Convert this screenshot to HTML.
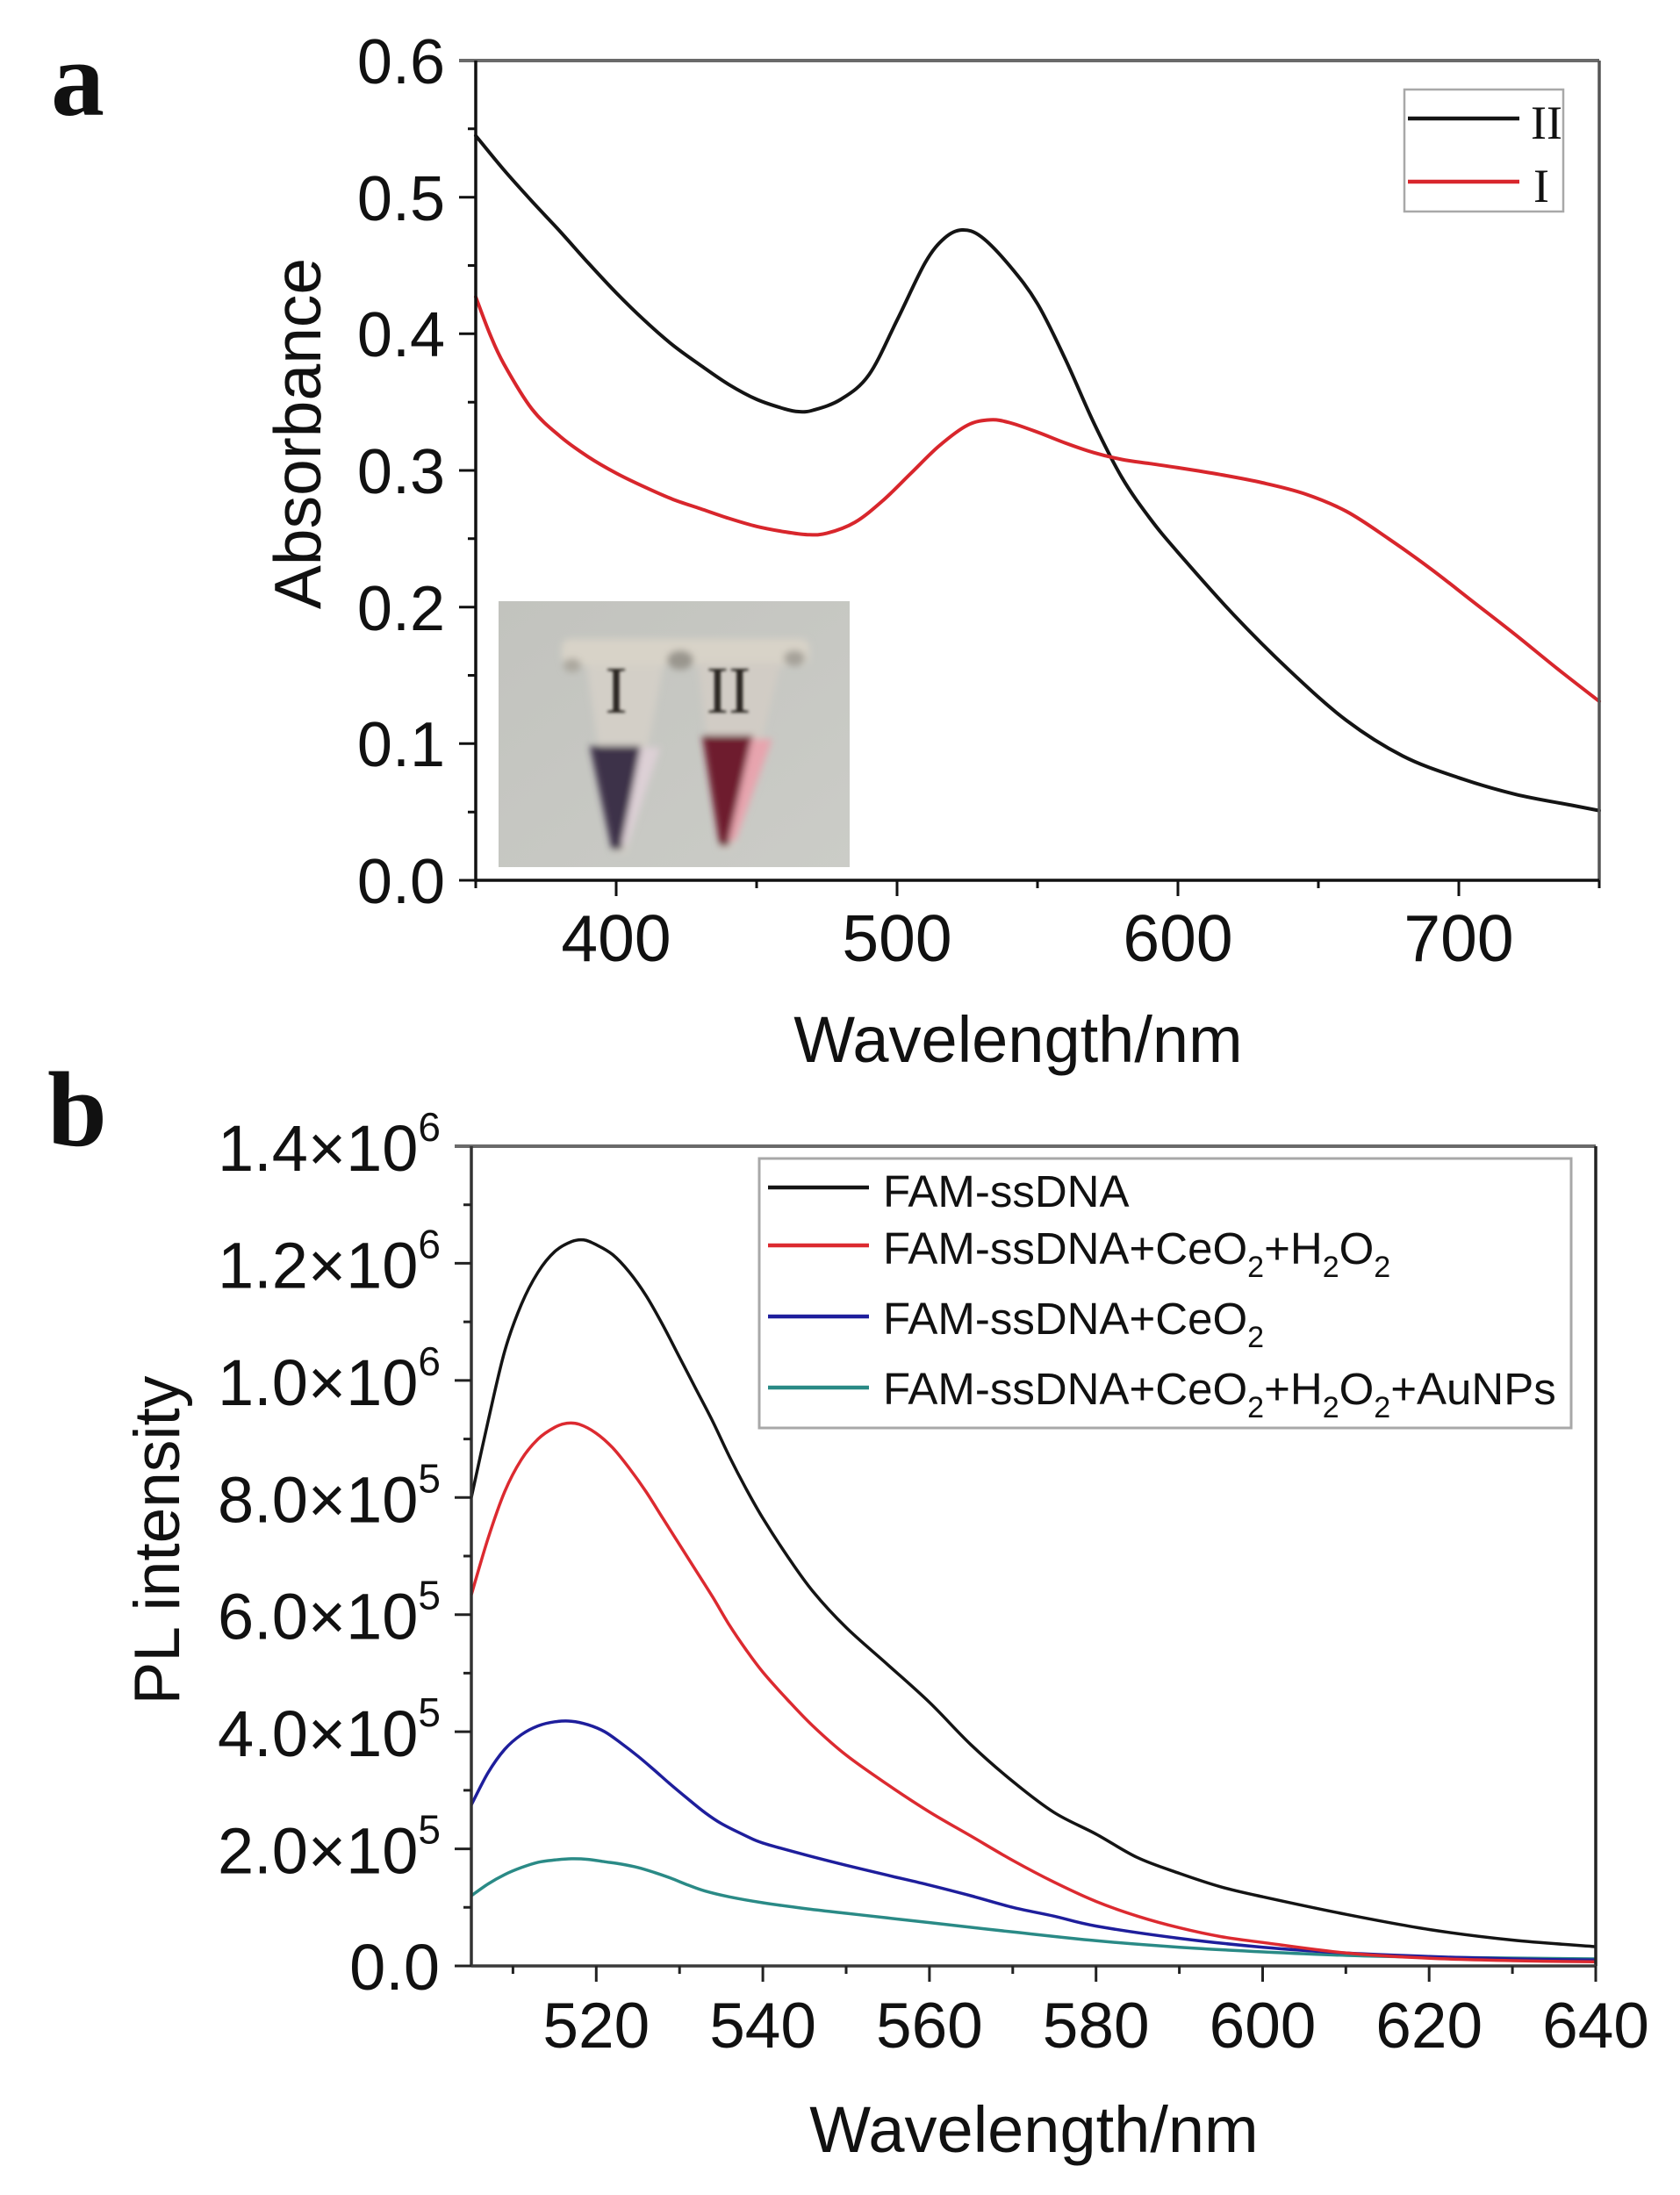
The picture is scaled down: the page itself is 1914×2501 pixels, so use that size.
<!DOCTYPE html>
<html><head><meta charset="utf-8"><style>
html,body{margin:0;padding:0;background:#fff;}
svg{display:block;}
text{font-family:"Liberation Sans",Arial,sans-serif;fill:#111;}
.serif{font-family:"Liberation Serif","Times New Roman",serif;}
</style></head><body>
<svg width="1914" height="2501" viewBox="0 0 1914 2501" xmlns="http://www.w3.org/2000/svg">
<defs>
<filter id="bl" x="-20%" y="-20%" width="140%" height="140%"><feGaussianBlur stdDeviation="4"/></filter>
<filter id="bl2"><feGaussianBlur stdDeviation="1.5"/></filter>
<linearGradient id="pg" x1="0" y1="0" x2="1" y2="1"><stop offset="0" stop-color="#c2c3be"/><stop offset="1" stop-color="#cbccc7"/></linearGradient>
</defs>
<rect width="1914" height="2501" fill="#fff"/>

<!-- ================= PANEL A ================= -->
<text class="serif" x="58" y="131" font-size="122" font-weight="bold">a</text>

<!-- inset photo -->
<g>
<rect x="568" y="685" width="400" height="303" fill="url(#pg)"/>
<g filter="url(#bl)">
<rect x="640" y="728" width="282" height="30" rx="10" fill="#d8d3c8"/>
<ellipse cx="775" cy="752" rx="15" ry="11" fill="#9a968e"/>
<ellipse cx="905" cy="750" rx="12" ry="9" fill="#a6a29a"/>
<ellipse cx="652" cy="758" rx="10" ry="8" fill="#aca89f"/>
<path d="M668 758 L756 758 L714 972 L700 972 Z" fill="#d3cfc7"/>
<path d="M795 755 L890 755 L835 968 L820 968 Z" fill="#d1ccc5"/>
<path d="M672 850 L730 850 L708 968 L697 968 Z" fill="#3e3149"/>
<path d="M730 852 L752 852 L715 962 L708 962 Z" fill="#ddd0d6"/>
<path d="M800 838 L858 838 L830 964 L820 964 Z" fill="#6e1a2d"/>
<path d="M856 842 L880 842 L838 958 L830 958 Z" fill="#e7a4ae"/>
</g>
<text class="serif" x="702" y="812" font-size="76" text-anchor="middle" style="fill:#2b2520" filter="url(#bl2)">I</text>
<text class="serif" x="830" y="812" font-size="76" text-anchor="middle" style="fill:#2b2520" filter="url(#bl2)">II</text>
</g>

<!-- curves a -->
<polyline class="s" fill="none" stroke="#141414" stroke-width="4" stroke-linejoin="round" stroke-linecap="round" points="542,154.6 574,193.5 606,229.3 638,263.6 670,299.4 702,333.6 734,364.8 766,392.8 798,416.1 830,437.9 862,455 894,465.9 910,469 926,467.5 958,455 990,427 1022,364.8 1054,299.4 1076,271.4 1096,262 1118,269.8 1150,302.5 1182,346.1 1214,409.9 1246,481.5 1278,543.8 1310,590.5 1342,629.4 1406,701 1470,764.8 1534,820.9 1598,861.3 1662,886.2 1726,904.9 1790,917.4 1822,923.6"/>
<polyline class="s" fill="none" stroke="#d8262c" stroke-width="4" stroke-linejoin="round" stroke-linecap="round" points="542,338.3 558,380.3 574,414.6 606,466 638,497.1 670,520.4 702,539.1 734,554.7 766,568.7 798,579.6 830,590.5 862,599.8 894,606 920,609.2 942,607.6 974,595.1 1006,570.2 1038,539.1 1070,508 1102,484.6 1128,478.4 1150,481.5 1182,492.4 1214,504.9 1246,515.7 1278,523.5 1310,528.2 1342,532.9 1390,540.7 1438,550 1486,562.5 1534,582.7 1582,613.8 1630,648.1 1678,685.4 1726,722.8 1774,761.7 1822,799.1"/>

<!-- frame a -->
<path d="M523 69 H1822" stroke="#6a6a6a" stroke-width="4" fill="none"/>
<path d="M1822 69 V1003" stroke="#555" stroke-width="3.5" fill="none"/>
<path d="M542 69 V1003 H1822" stroke="#111" stroke-width="3.5" fill="none"/>
<!-- ticks a -->
<path d="M523 1003H542 M523 847.3H542 M523 691.7H542 M523 536H542 M523 380.3H542 M523 224.7H542
M533 925.2H542 M533 769.5H542 M533 613.8H542 M533 458.2H542 M533 302.5H542 M533 146.8H542
M702 1003V1021 M1022 1003V1021 M1342 1003V1021 M1662 1003V1021
M542 1003V1012 M862 1003V1012 M1182 1003V1012 M1502 1003V1012 M1822 1003V1012" stroke="#111" stroke-width="3" fill="none"/>
<!-- tick labels a -->
<g font-size="72" text-anchor="end">
<text x="507" y="1029">0.0</text>
<text x="507" y="873">0.1</text>
<text x="507" y="718">0.2</text>
<text x="507" y="562">0.3</text>
<text x="507" y="406">0.4</text>
<text x="507" y="251">0.5</text>
<text x="507" y="95">0.6</text>
</g>
<g font-size="75" text-anchor="middle">
<text x="702" y="1095">400</text>
<text x="1022" y="1095">500</text>
<text x="1342" y="1095">600</text>
<text x="1662" y="1095">700</text>
</g>
<text x="1160" y="1210" font-size="74" text-anchor="middle">Wavelength/nm</text>
<text transform="translate(365,494) rotate(-90)" font-size="75" text-anchor="middle">Absorbance</text>

<!-- legend a -->
<rect x="1600" y="102" width="181" height="139" fill="#fff" stroke="#a8a8a8" stroke-width="2.5"/>
<path d="M1604 135 H1731" stroke="#141414" stroke-width="4.5"/>
<path d="M1604 207 H1731" stroke="#d8262c" stroke-width="4.5"/>
<text class="serif" x="1744" y="158" font-size="54">II</text>
<text class="serif" x="1747" y="230" font-size="54">I</text>

<!-- ================= PANEL B ================= -->
<text class="serif" x="54" y="1305" font-size="122" font-weight="bold">b</text>

<!-- curves b -->
<polyline class="s" fill="none" stroke="#2a8a86" stroke-width="3.5" stroke-linejoin="round" points="537,2160 556,2146.6 575,2135.9 594,2127.9 613,2121.9 632,2119.3 651,2117.9 670,2118.6 689,2121.3 708,2124 727,2127.9 745,2133.3 764,2139.9 784,2147.9 803,2154.6 831,2161.3 869,2168 917,2174.6 964,2180 1011,2185.3 1059,2190.6 1154,2201.3 1249,2211.3 1344,2218.7 1439,2224 1534,2228 1629,2230 1818,2232"/>
<polyline class="s" fill="none" stroke="#1e1e9c" stroke-width="3.5" stroke-linejoin="round" points="537,2056.5 556,2019.9 575,1993.2 594,1976.5 613,1966.5 632,1961.8 651,1961.2 670,1965.2 689,1973.2 708,1986.5 727,2001.2 745,2016.5 764,2033.2 784,2049.9 803,2065.2 822,2077.9 850,2091.9 869,2099.9 917,2113.3 964,2125.3 1011,2136.6 1059,2147.9 1106,2160 1154,2173.3 1201,2183.3 1249,2194.6 1344,2208.6 1439,2218.7 1534,2225.3 1629,2229.3 1724,2232 1818,2233.3"/>
<polyline class="s" fill="none" stroke="#dc2a30" stroke-width="3.5" stroke-linejoin="round" points="537,1817.1 556,1753 575,1699.6 594,1663 613,1639.6 632,1626.3 646,1621.6 660,1622.9 679,1632.9 698,1649.6 717,1673 736,1699.6 755,1729.7 774,1759.7 793,1789.7 812,1819.7 831,1851.7 850,1879.8 869,1905.1 897,1936.5 926,1966.5 964,1999.8 1011,2033.2 1059,2064.6 1106,2091.9 1154,2119.9 1201,2144.6 1249,2166.6 1296,2183.3 1344,2196.6 1391,2206.6 1439,2213.3 1534,2225.3 1629,2231.3 1724,2234 1818,2235.3"/>
<polyline class="s" fill="none" stroke="#141414" stroke-width="3.5" stroke-linejoin="round" points="537,1706.3 556,1619.6 575,1539.5 594,1486.2 613,1449.5 632,1426.1 651,1414.8 665,1412.8 679,1418.1 698,1429.5 717,1449.5 736,1476.2 755,1509.5 774,1546.2 793,1582.9 812,1619.6 831,1659.6 850,1696.3 869,1729.7 897,1773 926,1813.1 964,1854.4 1011,1896.4 1059,1939.8 1106,1987.8 1154,2029.9 1201,2065.2 1249,2089.9 1296,2116.6 1344,2134.6 1391,2149.9 1439,2161.3 1534,2181.3 1629,2198.6 1724,2210.6 1818,2218"/>

<!-- frame b -->
<path d="M518 1306 H1818" stroke="#6a6a6a" stroke-width="4" fill="none"/>
<path d="M537 1306 V2240" stroke="#333" stroke-width="3.5" fill="none"/>
<path d="M1818 1306 V2240" stroke="#222" stroke-width="3.5" fill="none"/>
<path d="M537 2240 H1818" stroke="#3a3a3a" stroke-width="3.5" fill="none"/>
<!-- ticks b -->
<path d="M518 2240H537 M518 2106.6H537 M518 1973.1H537 M518 1839.7H537 M518 1706.3H537 M518 1572.9H537 M518 1439.4H537
M528 2173.3H537 M528 2039.9H537 M528 1906.4H537 M528 1773H537 M528 1639.6H537 M528 1506.1H537 M528 1372.7H537
M679.3 2240V2258 M869.1 2240V2258 M1058.9 2240V2258 M1248.7 2240V2258 M1438.5 2240V2258 M1628.2 2240V2258 M1818 2240V2258
M584.4 2240V2249 M774.2 2240V2249 M964 2240V2249 M1153.8 2240V2249 M1343.6 2240V2249 M1533.3 2240V2249 M1723.1 2240V2249" stroke="#222" stroke-width="3" fill="none"/>
<!-- tick labels b -->
<g font-size="74" text-anchor="end">
<text x="501" y="2267">0.0</text>
<text x="502" y="2134.6">2.0×10<tspan font-size="46" dy="-34">5</tspan></text>
<text x="502" y="2001.1">4.0×10<tspan font-size="46" dy="-34">5</tspan></text>
<text x="502" y="1867.7">6.0×10<tspan font-size="46" dy="-34">5</tspan></text>
<text x="502" y="1734.3">8.0×10<tspan font-size="46" dy="-34">5</tspan></text>
<text x="502" y="1600.9">1.0×10<tspan font-size="46" dy="-34">6</tspan></text>
<text x="502" y="1467.4">1.2×10<tspan font-size="46" dy="-34">6</tspan></text>
<text x="502" y="1334">1.4×10<tspan font-size="46" dy="-34">6</tspan></text>
</g>
<g font-size="73" text-anchor="middle">
<text x="679.3" y="2333">520</text>
<text x="869.1" y="2333">540</text>
<text x="1058.9" y="2333">560</text>
<text x="1248.7" y="2333">580</text>
<text x="1438.5" y="2333">600</text>
<text x="1628.2" y="2333">620</text>
<text x="1818" y="2333">640</text>
</g>
<text x="1178" y="2452" font-size="74" text-anchor="middle">Wavelength/nm</text>
<text transform="translate(204,1755) rotate(-90)" font-size="73" text-anchor="middle">PL intensity</text>

<!-- legend b -->
<rect x="865" y="1320" width="925" height="307" fill="#fff" stroke="#a8a8a8" stroke-width="3"/>
<path d="M875 1353 H990" stroke="#141414" stroke-width="4.5"/>
<path d="M875 1419 H990" stroke="#dc2a30" stroke-width="4.5"/>
<path d="M875 1500 H990" stroke="#1e1e9c" stroke-width="4.5"/>
<path d="M875 1581 H990" stroke="#2a8a86" stroke-width="4.5"/>
<g font-size="51">
<text x="1006" y="1375">FAM-ssDNA</text>
<text x="1006" y="1440">FAM-ssDNA+CeO<tspan font-size="34" dy="15">2</tspan><tspan dy="-15">+H</tspan><tspan font-size="34" dy="15">2</tspan><tspan dy="-15">O</tspan><tspan font-size="34" dy="15">2</tspan></text>
<text x="1006" y="1520">FAM-ssDNA+CeO<tspan font-size="34" dy="15">2</tspan></text>
<text x="1006" y="1600">FAM-ssDNA+CeO<tspan font-size="34" dy="15">2</tspan><tspan dy="-15">+H</tspan><tspan font-size="34" dy="15">2</tspan><tspan dy="-15">O</tspan><tspan font-size="34" dy="15">2</tspan><tspan dy="-15">+AuNPs</tspan></text>
</g>
</svg>
<script>
(function(){
var NS='http://www.w3.org/2000/svg';
var pls=document.querySelectorAll('polyline.s');
for(var k=0;k<pls.length;k++){
 var pl=pls[k];
 var p=pl.getAttribute('points').trim().split(/\s+/).map(function(s){return s.split(',').map(Number);});
 var d='M'+p[0][0]+','+p[0][1];
 for(var i=0;i<p.length-1;i++){
  var p0=p[i-1]||p[i],p1=p[i],p2=p[i+1],p3=p[i+2]||p2;
  var c1x=p1[0]+(p2[0]-p0[0])/6,c1y=p1[1]+(p2[1]-p0[1])/6;
  var c2x=p2[0]-(p3[0]-p1[0])/6,c2y=p2[1]-(p3[1]-p1[1])/6;
  d+=' C'+c1x.toFixed(2)+','+c1y.toFixed(2)+' '+c2x.toFixed(2)+','+c2y.toFixed(2)+' '+p2[0]+','+p2[1];
 }
 var path=document.createElementNS(NS,'path');
 path.setAttribute('d',d);
 ['stroke','stroke-width','fill','stroke-linejoin','stroke-linecap'].forEach(function(a){var v=pl.getAttribute(a);if(v)path.setAttribute(a,v);});
 pl.parentNode.replaceChild(path,pl);
}
})();
</script>
</body></html>
